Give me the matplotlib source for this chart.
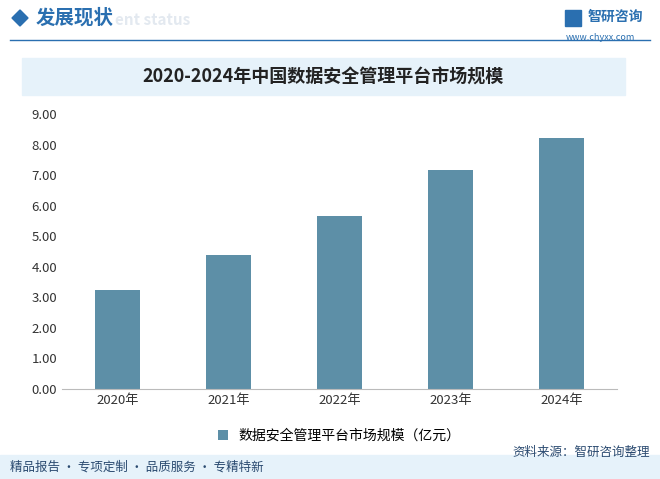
import matplotlib
matplotlib.use("Agg")
import matplotlib.pyplot as plt
from matplotlib.patches import Rectangle, Polygon

plt.rcParams['font.family'] = ['Noto Sans CJK SC', 'DejaVu Sans']

years = ["2020年", "2021年", "2022年", "2023年", "2024年"]
values = [3.25, 4.38, 5.65, 7.18, 8.22]
yticks = [0, 1, 2, 3, 4, 5, 6, 7, 8, 9]
series_name = "数据安全管理平台市场规模（亿元）"
title = "2020-2024年中国数据安全管理平台市场规模"

W, H = 660, 479
fig = plt.figure(figsize=(W/100, H/100), dpi=100)
bg = fig.add_axes([0, 0, 1, 1]); bg.set_xlim(0, W); bg.set_ylim(H, 0); bg.axis('off')

# header
bg.add_patch(Polygon([[12, 18], [20, 10], [28, 18], [20, 26]], color='#2a6fb0'))
bg.text(36, 18, "发展现状", fontsize=14, fontweight='bold', color='#2a6fb0', va='center')
bg.text(115, 20, "ent status", fontsize=11, color='#e3e9f0', va='center', fontweight='bold')
bg.plot([10, 650], [40, 40], color='#2a6fb0', lw=1)
bg.add_patch(Rectangle((565, 10), 16, 16, color='#2a6fb0'))
bg.text(588, 17, "智研咨询", fontsize=10, color='#2a6fb0', va='center', fontweight='bold')
bg.text(566, 37, "www.chyxx.com", fontsize=6.5, color='#2a6fb0', va='center')
# title band
bg.add_patch(Rectangle((22, 58), 603, 37, color='#e6f2fa'))
bg.text(323, 77, title, fontsize=13, fontweight='bold', ha='center', va='center', color='#222222')
# footer
bg.add_patch(Rectangle((0, 455), W, 24, color='#e6f2fa'))
bg.text(10, 467, "精品报告 · 专项定制 · 品质服务 · 专精特新", fontsize=9, color='#2a4a70', va='center')
bg.text(650, 452, "资料来源：智研咨询整理", fontsize=9, color='#2a4a70', va='center', ha='right')

ax = fig.add_axes([62/W, 1-389/H, (617-62)/W, (389-114)/H])
ax.bar(range(len(years)), values, width=0.4, color='#5d8fa7', label=series_name)
ax.set_xlim(-0.5, 4.5); ax.set_ylim(0, 9)
ax.set_yticks(yticks)
ax.set_yticklabels([f"{v:.2f}" for v in yticks], fontsize=9.5, color='#333333')
ax.set_xticks(range(len(years))); ax.set_xticklabels(years, fontsize=9.5, color='#333333')
for s in ['top', 'right', 'left']:
    ax.spines[s].set_visible(False)
ax.spines['bottom'].set_color('#bbbbbb')
ax.tick_params(length=0)
ax.legend(loc='upper center', bbox_to_anchor=(0.5, -0.1), frameon=False, fontsize=10,
          handlelength=0.7, handleheight=0.7)
fig.savefig("out.png", dpi=100)
